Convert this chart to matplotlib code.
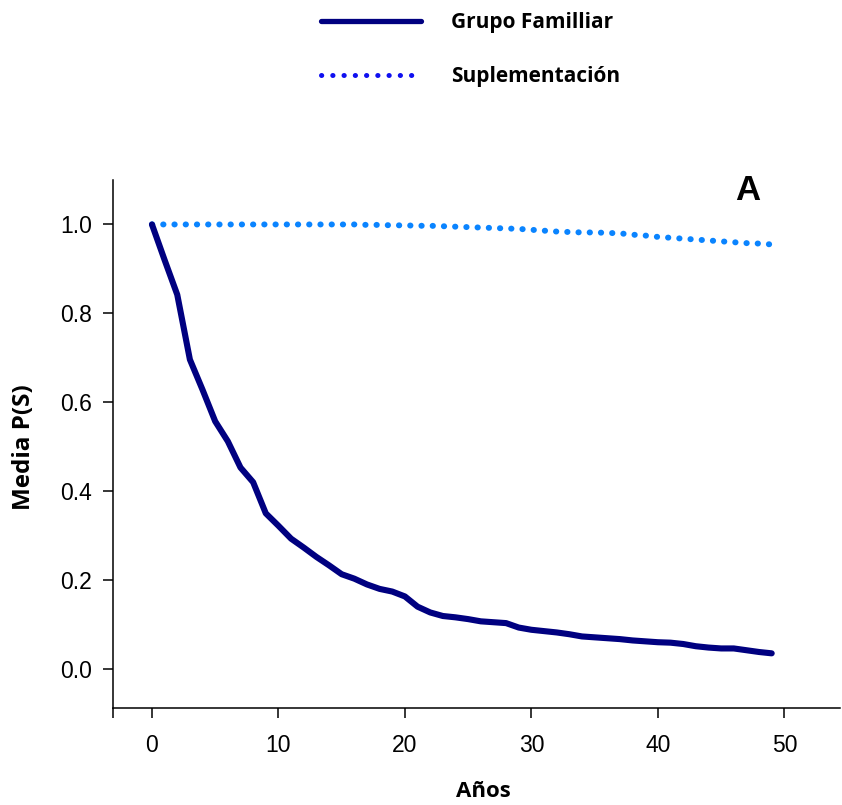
import matplotlib
matplotlib.use("Agg")
import matplotlib.pyplot as plt
from matplotlib.lines import Line2D

years = list(range(50))
grupo_familiar = [1.000, 0.920, 0.842, 0.696, 0.628, 0.557, 0.512, 0.453, 0.420, 0.350,
                  0.322, 0.293, 0.273, 0.252, 0.233, 0.213, 0.203, 0.190, 0.180, 0.174,
                  0.163, 0.140, 0.127, 0.119, 0.116, 0.112, 0.107, 0.105, 0.103, 0.093,
                  0.088, 0.085, 0.082, 0.078, 0.073, 0.071, 0.069, 0.067, 0.064, 0.062,
                  0.060, 0.059, 0.056, 0.051, 0.048, 0.046, 0.046, 0.042, 0.038, 0.035]
suplementacion = [1.000, 1.000, 1.000, 1.000, 1.000, 1.000, 1.000, 1.000, 1.000, 1.000,
                  1.000, 1.000, 1.000, 1.000, 1.000, 1.000, 1.000, 0.999, 0.999, 0.998,
                  0.998, 0.997, 0.997, 0.996, 0.995, 0.994, 0.993, 0.992, 0.991, 0.990,
                  0.988, 0.986, 0.984, 0.983, 0.982, 0.982, 0.981, 0.980, 0.977, 0.975,
                  0.972, 0.970, 0.968, 0.966, 0.964, 0.962, 0.960, 0.958, 0.957, 0.955]

labels = ["Grupo Familliar", "Suplementación"]
xticks = [0, 10, 20, 30, 40, 50]
yticks = [0.0, 0.2, 0.4, 0.6, 0.8, 1.0]

fig = plt.figure(figsize=(8.42, 8.05), dpi=100)
ax = fig.add_axes([113/842, 1-708/805, 727/842, 528/805])

navy = "#000080"
light = "#0A84FF"
ax.plot(years, suplementacion, color=light, lw=4.3, linestyle=(0, (0.05, 1.83)),
        dash_capstyle="round", solid_capstyle="round")
ax.plot(years, grupo_familiar, color=navy, lw=4.4, solid_capstyle="round",
        solid_joinstyle="round")

xmin, xmax = -3.08, 54.4
ax.set_xlim(xmin, xmax)
ax.set_ylim(-0.088, 1.1)
ax.set_xticks(xticks)
ax.set_xticks([xmin], minor=True)
ax.set_yticks(yticks)
ax.set_yticklabels([f"{v:.1f}" for v in yticks])
ax.spines["top"].set_visible(False)
ax.spines["right"].set_visible(False)
for s in ("left", "bottom"):
    ax.spines[s].set_linewidth(1.1)
ax.tick_params(axis="both", which="both", direction="out", length=7, width=1.1,
               labelsize=16.5)
ax.tick_params(axis="x", pad=12)
ax.tick_params(axis="y", pad=8)
for lab in ax.get_xticklabels() + ax.get_yticklabels():
    lab.set_fontfamily("Liberation Sans")

ax.set_xlabel("Años", fontsize=16, fontweight="bold", family="Open Sans")
ax.set_ylabel("Media P(S)", fontsize=17.5, fontweight="bold", family="Open Sans")
ax.xaxis.label.set_va("center")
ax.yaxis.label.set_va("center")
ax.xaxis.set_label_coords(0.509, -0.159)
ax.yaxis.set_label_coords(-0.1224, 0.494)

ax.text((748-113)/727, (708-190.5)/528, "A", transform=ax.transAxes, fontsize=25,
        fontweight="bold", family="Liberation Sans", ha="center", va="center")

handles = [Line2D([], [], color=navy, lw=3.8, solid_capstyle="round"),
           Line2D([], [], color="#1010F0", lw=3.6, linestyle=(0, (0.05, 2.2)),
                  dash_capstyle="round")]
leg = fig.legend(handles, labels, loc="upper left", bbox_to_anchor=(321/842, 1-12/805),
                 frameon=False, borderpad=0, borderaxespad=0, handlelength=4.8,
                 handletextpad=1.45, labelspacing=1.6,
                 prop={"family": "Open Sans", "weight": "bold", "size": 15})

fig.savefig("out.png", dpi=100)
